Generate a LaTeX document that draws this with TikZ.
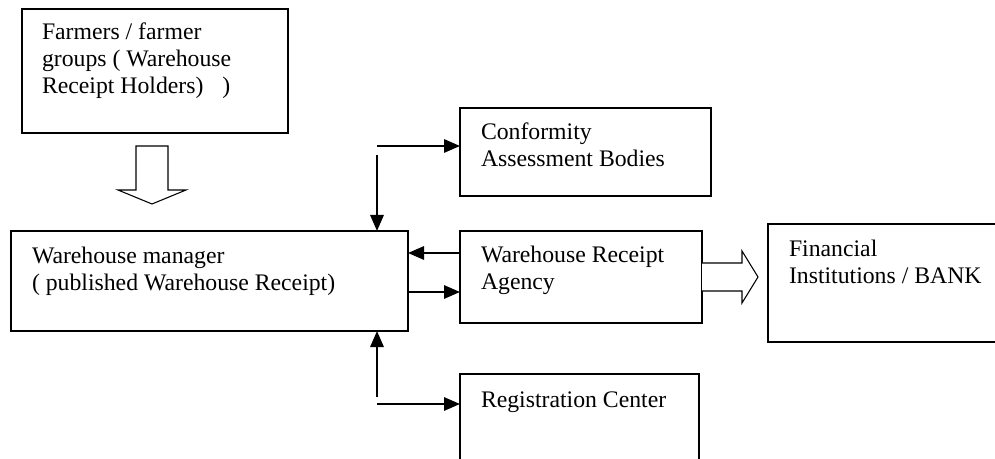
\documentclass[tikz,border=0pt]{standalone}
\usepackage{fontspec}
\setmainfont{Liberation Serif}
\usetikzlibrary{calc,arrows.meta}
\begin{document}
\begin{tikzpicture}[x=0.75pt,y=-0.75pt,
  box/.style={draw,line width=1.1pt,inner sep=0pt,outer sep=0pt,anchor=north west},
  txt/.style={inner sep=0pt,outer sep=0pt,anchor=base west,align=left,font=\fontsize{17.8}{20.3}\selectfont},
  conn/.style={line width=1.5pt,-{Triangle[length=12pt,width=10pt]}},
  hollow/.style={draw,line width=0.8pt,fill=white,line join=miter}]
\useasboundingbox (0,0) rectangle (995,459);
\clip (0,0) rectangle (995,459);
% boxes
\node[box,minimum width=266*0.75pt,minimum height=124*0.75pt] (farm) at (22,9) {};
\node[box,minimum width=397*0.75pt,minimum height=100*0.75pt] (wm) at (11,231) {};
\node[box,minimum width=251*0.75pt,minimum height=88*0.75pt] (conf) at (460,108) {};
\node[box,minimum width=242*0.75pt,minimum height=92*0.75pt] (wra) at (460,231) {};
\node[box,minimum width=239*0.75pt,minimum height=100*0.75pt] (reg) at (460,374) {};
\node[box,minimum width=240*0.75pt,minimum height=118*0.75pt] (bank) at (768,224) {};
% texts (anchor = baseline of the last line)
\node[txt] (farmT) at ($(farm.north west)+(20,85)$) {Farmers / farmer\\groups ( Warehouse\\Receipt Holders)\hspace{0.8em})};
\node[txt] (wmT) at ($(wm.north west)+(21,60)$) {Warehouse manager\\( published Warehouse Receipt)};
\node[txt] (confT) at ($(conf.north west)+(21,59)$) {Conformity\\Assessment Bodies};
\node[txt] (wraT) at ($(wra.north west)+(21,59)$) {Warehouse Receipt\\Agency};
\node[txt] (regT) at ($(reg.north west)+(21,33)$) {Registration Center};
\node[txt] (bankT) at ($(bank.north west)+(21,60)$) {Financial\\Institutions / BANK};
% hollow down arrow (farmers -> warehouse manager)
\draw[hollow] (136,146) -- (168,146) -- (168,190) -- (186,190) -- (152,204) -- (118,190) -- (136,190) -- cycle;
% hollow right arrow (agency -> bank)
\draw[hollow] (wra.east |- 0,263) -- (742,263) -- (742,251) -- (758,277) -- (742,303) -- (742,291) -- (wra.east |- 0,291);
% connectors
\coordinate (c1) at (377,146);
\coordinate (c2) at (377,155);
\coordinate (c3) at (377,397);
\coordinate (c4) at (377,404);
\draw[conn] (c1) -- (c1 -| conf.west);
\draw[conn] (c2) -- (c2 |- wm.north);
\draw[conn] (wra.west |- 0,253) -- (wm.east |- 0,253);
\draw[conn] (wm.east |- 0,292) -- (wra.west |- 0,292);
\draw[conn] (c3) -- (c3 |- wm.south);
\draw[conn] (c4) -- (c4 -| reg.west);
\end{tikzpicture}
\end{document}
